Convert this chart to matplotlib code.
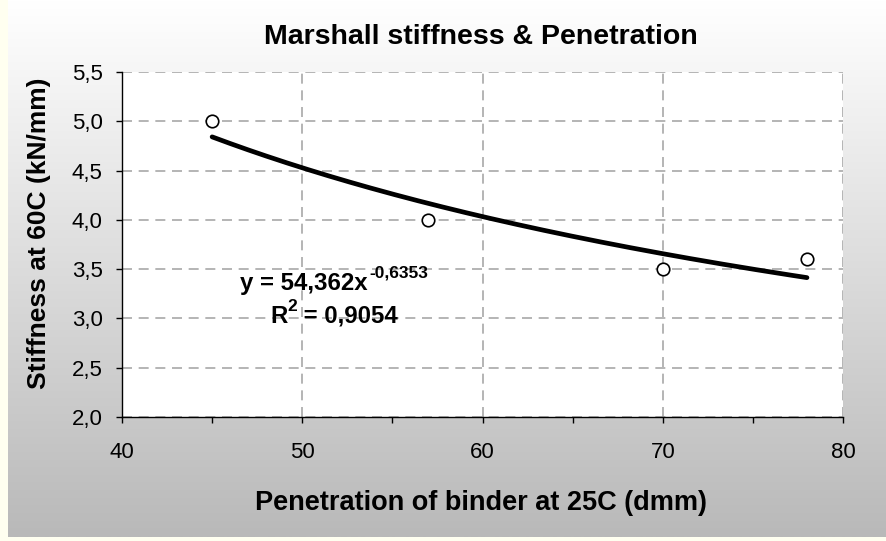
import numpy as np
import matplotlib
matplotlib.use("Agg")
import matplotlib.pyplot as plt
from matplotlib.ticker import MultipleLocator, FuncFormatter

# Data
penetration = [45, 57, 70, 78]
stiffness = [5.0, 4.0, 3.5, 3.6]
coef_a = 54.362
coef_b = -0.6353
r_squared = 0.9054
x_ticks = [40, 50, 60, 70, 80]
y_ticks = [2.0, 2.5, 3.0, 3.5, 4.0, 4.5, 5.0, 5.5]
title = 'Marshall stiffness & Penetration'
x_label = 'Penetration of binder at 25C (dmm)'
y_label = 'Stiffness at 60C (kN/mm)'

plt.rcParams['font.family'] = ['Liberation Sans', 'DejaVu Sans']

W, H = 887, 541
fig = plt.figure(figsize=(W / 100, H / 100), dpi=100)
fig.patch.set_facecolor('#fffff0')


def fx(px):
    return px / W


def fy(py):
    return 1 - py / H


# gradient background panel
bg = fig.add_axes([8 / W, (H - 537) / H, (W - 8) / W, 537 / H], zorder=0)
t = np.linspace(0.0, 1.0, 256).reshape(-1, 1, 1)
top = np.array([1.0, 1.0, 1.0])
bot = np.array([0xb9, 0xb9, 0xb9]) / 255
img = top * (1 - t) + bot * t
bg.imshow(img, aspect='auto', extent=[0, 1, 0, 1], interpolation='bilinear')
bg.set_axis_off()

ax = fig.add_axes([fx(122), fy(417), (843 - 122) / W, (417 - 72) / H], zorder=1)
ax.set_facecolor('white')

xs = np.linspace(min(penetration), max(penetration), 200)
ax.plot(xs, coef_a * xs ** coef_b, color='black', lw=3.4, solid_capstyle='round', zorder=3)
ax.plot(penetration, stiffness, 'o', ms=9, mfc='white', mec='black', mew=1.2, zorder=4,
        clip_on=False)

ax.set_xlim(40, 80)
ax.set_ylim(2.0, 5.5)
ax.set_xticks(x_ticks)
ax.set_yticks(y_ticks)
ax.xaxis.set_minor_locator(MultipleLocator(5))
ax.yaxis.set_major_formatter(FuncFormatter(lambda v, p: f"{v:.1f}".replace('.', ',')))
ax.xaxis.set_major_formatter(FuncFormatter(lambda v, p: f"{v:.0f}"))
ax.tick_params(axis='both', which='major', direction='out', length=4, width=1,
               labelsize=16, colors='black')
ax.tick_params(axis='y', pad=10)
ax.tick_params(axis='x', pad=14)
ax.tick_params(axis='x', which='minor', direction='out', length=4, width=1)

ax.grid(True, which='major', color='#a8a8a8', linestyle=(0, (6, 4)), lw=1.2)
ax.set_axisbelow(True)
for s in ['top', 'right']:
    ax.spines[s].set_visible(False)
for s in ['left', 'bottom']:
    ax.spines[s].set_color('black')
    ax.spines[s].set_linewidth(1)
    ax.spines[s].set_zorder(5)

fig.text(fx(481), fy(503), x_label, ha='center', va='center', fontsize=19.5, fontweight='bold')
fig.text(fx(39), fy(233), y_label, ha='center', va='center', rotation=90,
         fontsize=19, fontweight='bold')
fig.text(fx(481), fy(37), title, ha='center', va='center', fontsize=20.5, fontweight='bold')

# trendline equation with superscripts
fig.text(fx(240), fy(290), 'y = 54,362x', ha='left', va='baseline', fontsize=17.3, fontweight='bold')
fig.text(fx(369), fy(278), '-0,6353', ha='left', va='baseline', fontsize=12.5, fontweight='bold')
fig.text(fx(270), fy(323), 'R', ha='left', va='baseline', fontsize=17.3, fontweight='bold')
fig.text(fx(287.5), fy(311), '2', ha='left', va='baseline', fontsize=12.5, fontweight='bold')
fig.text(fx(297), fy(323), ' = ' + f"{r_squared:.4f}".replace('.', ','), ha='left', va='baseline',
         fontsize=17.3, fontweight='bold')

fig.savefig('out.png', dpi=100, facecolor=fig.get_facecolor())
